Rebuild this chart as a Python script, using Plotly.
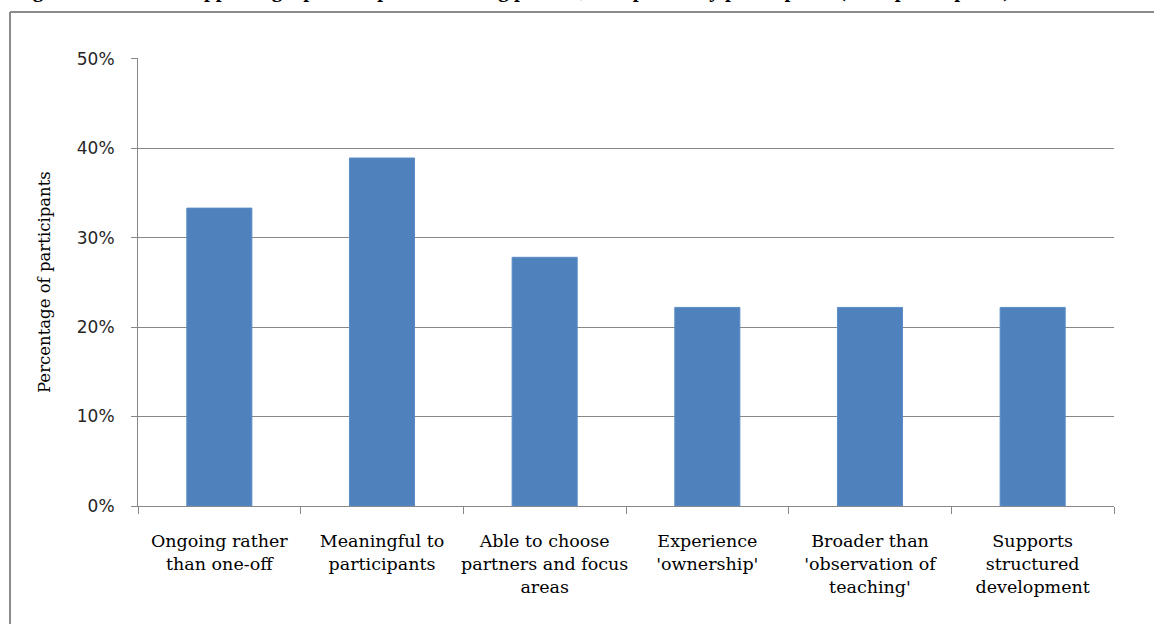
import plotly.graph_objects as go

categories = [
    "Ongoing rather<br>than one-off",
    "Meaningful to<br>participants",
    "Able to choose<br>partners and focus<br>areas",
    "Experience<br>'ownership'",
    "Broader than<br>'observation of<br>teaching'",
    "Supports<br>structured<br>development",
]
values = [0.333, 0.389, 0.278, 0.222, 0.222, 0.222]
y_ticks = [0, 0.1, 0.2, 0.3, 0.4, 0.5]
y_tick_labels = ["0%", "10%", "20%", "30%", "40%", "50%"]
title_text = ("Figure 5: Features supporting a positive peer reviewing process, "
              "as reported by participants (% of participants)")
y_title = "Percentage of participants"

W, H = 1154, 624
L, R, T, B = 138, 40, 58, 118
PW, PH = W - L - R, H - T - B


def px(x):
    return (x - L) / PW


def py(y):
    return (H - B - y) / PH


fig = go.Figure(go.Bar(
    x=categories, y=values,
    marker=dict(color="#4F81BD", line=dict(color="#5B8CC8", width=1)),
    hoverinfo="skip",
))

fig.update_layout(
    width=W, height=H,
    margin=dict(l=L, r=R, t=T, b=B, autoexpand=False),
    paper_bgcolor="white", plot_bgcolor="white",
    bargap=0.6,
    showlegend=False,
    xaxis=dict(
        showline=True, linecolor="#878787", linewidth=1,
        ticks="outside", tickson="boundaries", ticklen=7, tickcolor="#878787",
        tickfont=dict(family="DejaVu Serif", size=17.5, color="black"),
        tickangle=0, automargin=False,
        ticklabelstandoff=19,
        showgrid=False,
    ),
    yaxis=dict(
        range=[0, 0.5008], tickvals=y_ticks, ticktext=y_tick_labels,
        showline=True, linecolor="#878787", linewidth=1,
        ticks="outside", ticklen=6, tickcolor="#878787",
        showgrid=True, gridcolor="#878787", gridwidth=1,
        tickfont=dict(family="DejaVu Sans", size=17, color="#262626"),
        ticklabelstandoff=13, automargin=False,
        zeroline=False,
    ),
    shapes=[
        dict(type="line", xref="paper", yref="paper",
             x0=px(10), x1=px(1170), y0=py(12), y1=py(12),
             line=dict(color="#8C8C8C", width=2)),
        dict(type="line", xref="paper", yref="paper",
             x0=px(10), x1=px(10), y0=py(12), y1=py(640),
             line=dict(color="#8C8C8C", width=2)),
    ],
    annotations=[
        dict(text="<b>" + title_text + "</b>", xref="paper", yref="paper",
             x=px(12), xanchor="left", y=py(4), yanchor="bottom",
             showarrow=False,
             font=dict(family="Liberation Serif", size=21, color="black")),
        dict(text=y_title, xref="paper", yref="paper",
             x=px(44), xanchor="center", y=py(282), yanchor="middle",
             textangle=-90, showarrow=False,
             font=dict(family="DejaVu Serif", size=16.5, color="black")),
    ],
)

fig.write_html(
    "out.html",
    config={"displayModeBar": False},
    post_script="document.body.style.margin='0';document.body.style.overflow='hidden';",
)
